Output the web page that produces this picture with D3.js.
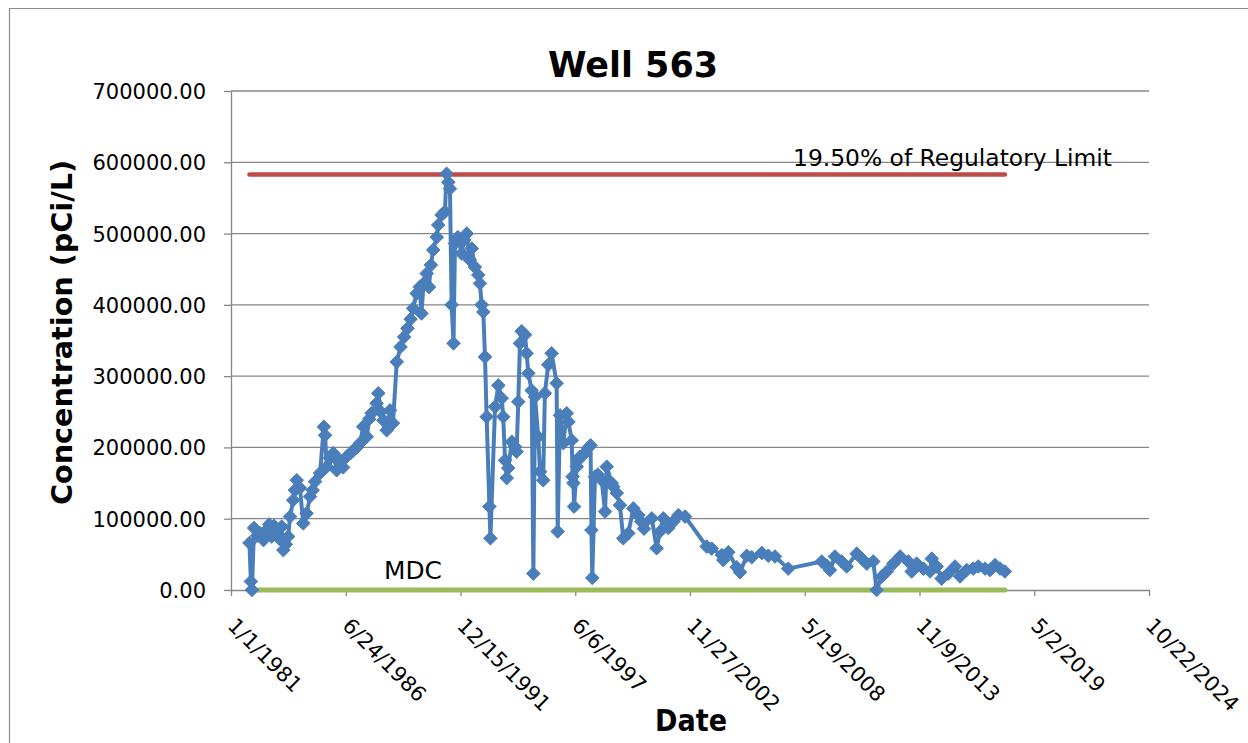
<!DOCTYPE html>
<html>
<head>
<meta charset="utf-8">
<script src="https://cdn.jsdelivr.net/npm/d3@7"></script>
<style>
  html, body { margin: 0; padding: 0; background: #fff; }
  svg { display: block; }
  text { font-family: "DejaVu Sans", "Liberation Sans", sans-serif; fill: #000; }
</style>
</head>
<body>
<svg id="chart" width="1248" height="743"></svg>
<script>
// ---------------- data ----------------
const chartTitle = "Well 563";
const yAxisTitle = "Concentration (pCi/L)";
const xAxisTitle = "Date";
const limitLabel = "19.50% of Regulatory Limit";
const mdcLabel = "MDC";
const limitValue = 583000;
const mdcValue = 0;

const xTickLabels = ["1/1/1981","6/24/1986","12/15/1991","6/6/1997","11/27/2002","5/19/2008","11/9/2013","5/2/2019","10/22/2024"];
const yTickValues = [0,100000,200000,300000,400000,500000,600000,700000];

// sample dates as decimal years
const sampleYears = [
  1981.88,1981.95,1982.00,1982.10,1982.25,1982.38,1982.55,1982.70,1982.82,1982.94,1983.05,1983.18,1983.30,1983.42,1983.50,
  1983.62,1983.73,1983.82,1983.97,1984.05,1984.14,1984.29,1984.45,1984.61,1984.77,1984.90,1985.01,1985.25,
  1985.43,1985.49,1985.57,1985.72,1985.88,1986.04,1986.20,1986.35,1986.52,1986.70,1986.84,1987.00,1987.16,1987.31,
  1987.48,1987.60,1987.71,1987.95,1988.03,1988.15,1988.27,1988.43,1988.59,1988.73,1988.91,1989.09,
  1989.26,1989.42,1989.57,1989.69,1989.86,1990.00,1990.09,1990.19,1990.34,1990.45,
  1990.54,1990.65,1990.82,1990.89,1991.05,1991.21,1991.29,1991.37,1991.45,1991.53,
  1991.62,1991.69,1991.83,1992.01,1992.12,1992.25,1992.40,1992.49,1992.64,1992.80,
  1992.88,1992.96,1993.04,1993.12,1993.20,1993.33,1993.38,1993.60,1993.76,1993.92,
  1993.99,1994.08,1994.16,1994.23,1994.40,1994.55,1994.63,1994.71,1994.79,1994.87,
  1995.03,1995.11,1995.19,1995.35,1995.43,1995.51,1995.66,1995.75,1995.90,1995.98,
  1996.14,1996.30,1996.54,1996.59,1996.70,1996.86,1997.02,1997.10,1997.26,1997.30,
  1997.34,1997.37,1997.50,1997.57,1997.65,1997.89,1998.04,1998.16,1998.20,1998.24,
  1998.37,1998.51,1998.69,1998.85,1998.93,1999.17,1999.24,1999.41,1999.56,1999.72,
  1999.96,2000.20,2000.44,2000.57,2000.71,2001.08,2001.31,2001.47,2001.63,2001.87,
  2002.11,2002.35,2002.67,2003.70,2003.94,2004.42,2004.49,2004.73,2005.13,2005.29,
  2005.61,2005.85,2006.33,2006.64,2006.96,2007.59,2009.19,2009.43,2009.58,2009.82,
  2010.14,2010.38,2010.86,2011.10,2011.34,2011.65,2011.81,2012.05,2012.29,2012.61,
  2012.93,2013.32,2013.48,2013.72,2014.04,2014.36,2014.44,2014.68,2014.91,2015.23,
  2015.55,2015.79,2016.11,2016.42,2016.66,2016.98,2017.22,2017.46,2017.70,2017.93
];
const sampleValues = [
  66000,12000,0,87000,76000,80000,70000,84000,92000,75000,90000,82000,72000,89000,56000,
  64000,75000,103000,126000,140000,154000,143000,93500,107500,131000,140000,152000,164000,
  229000,217000,173000,185000,192000,168000,182000,172000,187000,192000,196000,200000,206000,229000,
  215000,240000,248000,262000,276000,250000,238000,224000,252000,234000,320000,341000,
  355000,367000,380000,395000,416000,425000,388000,430000,444000,425000,
  456000,477000,495000,512000,526000,531000,584000,572000,563000,400000,
  346000,486000,495000,472000,491000,500000,463000,479000,453000,442000,
  430000,400000,390000,327000,243000,117000,72500,257000,287000,269000,
  243000,182000,157000,171000,208000,201000,194000,264000,346000,363000,
  358000,332000,304000,280000,23000,271000,215000,166000,154000,276000,
  316000,332000,290000,82000,245000,206000,248000,236000,210000,159000,
  150000,117000,173000,182000,187000,192000,199000,203000,84000,17000,
  159000,162000,154000,110000,173000,150000,145000,136000,119000,72500,
  79500,114500,105000,96000,86000,100500,58500,82000,100500,87000,
  96000,105000,103000,61000,58000,49000,42000,53000,32000,25000,
  48000,46000,52000,48000,47000,30000,40000,34000,28000,47000,
  40000,33000,51000,44000,37000,40000,0,18700,25700,37000,
  47000,40000,26000,37000,30000,26000,44000,33000,16000,23000,
  33000,19000,28000,30000,33000,30000,28000,35000,30000,26000
];

// ---------------- helpers ----------------
function yearToDate(y) {
  const yr = Math.floor(y);
  const s = new Date(yr, 0, 1), e = new Date(yr + 1, 0, 1);
  return new Date(+s + (y - yr) * (e - s));
}
const parseTick = d3.timeParse("%m/%d/%Y");
const tickDates = xTickLabels.map(parseTick);
const samples = sampleYears.map((y, i) => ({ date: yearToDate(y), value: sampleValues[i] }));
const firstDate = samples[0].date, lastDate = samples[samples.length - 1].date;

// ---------------- layout ----------------
const svg = d3.select("#chart");
const plot = { left: 231, right: 1149, top: 91, bottom: 590 };
const x = d3.scaleTime().domain([tickDates[0], tickDates[tickDates.length - 1]]).range([plot.left, plot.right]);
const y = d3.scaleLinear().domain([0, 700000]).range([plot.bottom, plot.top]);
const gridColor = "#868686";

// chart border (left / top)
svg.append("path")
  .attr("d", `M9.5,743 L9.5,8.5 L1248,8.5`)
  .attr("fill", "none").attr("stroke", "#8c8c8c").attr("stroke-width", 1.2);

// gridlines
svg.append("g").selectAll("line").data(yTickValues.filter(v => v > 0)).join("line")
  .attr("x1", plot.left).attr("x2", plot.right)
  .attr("y1", d => y(d)).attr("y2", d => y(d))
  .attr("stroke", gridColor).attr("stroke-width", 1.3);

// y axis
const yAxis = svg.append("g").attr("transform", `translate(${plot.left},0)`)
  .call(d3.axisLeft(y).tickValues(yTickValues).tickFormat(d3.format(".2f")).tickSize(7).tickSizeOuter(0));
yAxis.select(".domain").attr("stroke", gridColor).attr("stroke-width", 1.3);
yAxis.selectAll(".tick line").attr("stroke", gridColor).attr("stroke-width", 1.3);
yAxis.selectAll(".tick text")
  .attr("x", -25).attr("dy", "0.36em")
  .style("font-size", "21px").style("font-family", "DejaVu Sans").attr("fill", "#000");

// x axis
const xAxis = svg.append("g").attr("transform", `translate(0,${plot.bottom})`)
  .call(d3.axisBottom(x).tickValues(tickDates).tickFormat((d, i) => xTickLabels[i]).tickSize(6).tickSizeOuter(0));
xAxis.select(".domain").attr("stroke", gridColor).attr("stroke-width", 1.3);
xAxis.selectAll(".tick line").attr("stroke", gridColor).attr("stroke-width", 1.3);
xAxis.selectAll(".tick text")
  .attr("x", 0).attr("y", 0).attr("dy", null)
  .attr("text-anchor", "start")
  .attr("transform", "translate(-5,37) rotate(45)")
  .style("font-size", "21px").style("font-family", "DejaVu Sans").attr("fill", "#000");

// limit lines
const limitLine = d3.line().x(d => x(d.date)).y(d => y(d.value));
svg.append("path")
  .datum([{ date: firstDate, value: mdcValue }, { date: lastDate, value: mdcValue }])
  .attr("d", limitLine).attr("stroke", "#9BBB59").attr("stroke-width", 5).attr("fill", "none")
  .attr("stroke-linecap", "round");
svg.append("path")
  .datum([{ date: firstDate, value: limitValue }, { date: lastDate, value: limitValue }])
  .attr("d", limitLine).attr("stroke", "#BE4B48").attr("stroke-width", 4.5).attr("fill", "none")
  .attr("stroke-linecap", "round");

// data series
const blue = "#4A7EBB";
svg.append("path").datum(samples)
  .attr("d", d3.line().x(d => x(d.date)).y(d => y(d.value)))
  .attr("fill", "none").attr("stroke", blue).attr("stroke-width", 4).attr("stroke-linejoin", "round");
const r = 6.8;
svg.append("g").selectAll("path").data(samples).join("path")
  .attr("transform", d => `translate(${x(d.date)},${y(d.value)})`)
  .attr("d", `M0,${-r}L${r},0L0,${r}L${-r},0Z`)
  .attr("fill", blue).attr("stroke", blue).attr("stroke-width", 1);

// annotation labels
svg.append("text").text(limitLabel)
  .attr("x", 793).attr("y", 166)
  .attr("textLength", 319).attr("lengthAdjust", "spacingAndGlyphs")
  .style("font-size", "23px");
svg.append("text").text(mdcLabel)
  .attr("x", 384).attr("y", 579)
  .attr("textLength", 58).attr("lengthAdjust", "spacingAndGlyphs")
  .style("font-size", "24px");

// titles
svg.append("text").text(chartTitle)
  .attr("x", 548).attr("y", 77)
  .attr("textLength", 170).attr("lengthAdjust", "spacingAndGlyphs")
  .style("font-size", "35px").style("font-weight", "bold");
svg.append("text").text(xAxisTitle)
  .attr("x", 655).attr("y", 731)
  .attr("textLength", 72).attr("lengthAdjust", "spacingAndGlyphs")
  .style("font-size", "30px").style("font-weight", "bold");
svg.append("text").text(yAxisTitle)
  .attr("transform", "translate(72,505) rotate(-90)")
  .attr("x", 0).attr("y", 0)
  .attr("textLength", 345).attr("lengthAdjust", "spacingAndGlyphs")
  .style("font-size", "28px").style("font-weight", "bold");
</script>
</body>
</html>
